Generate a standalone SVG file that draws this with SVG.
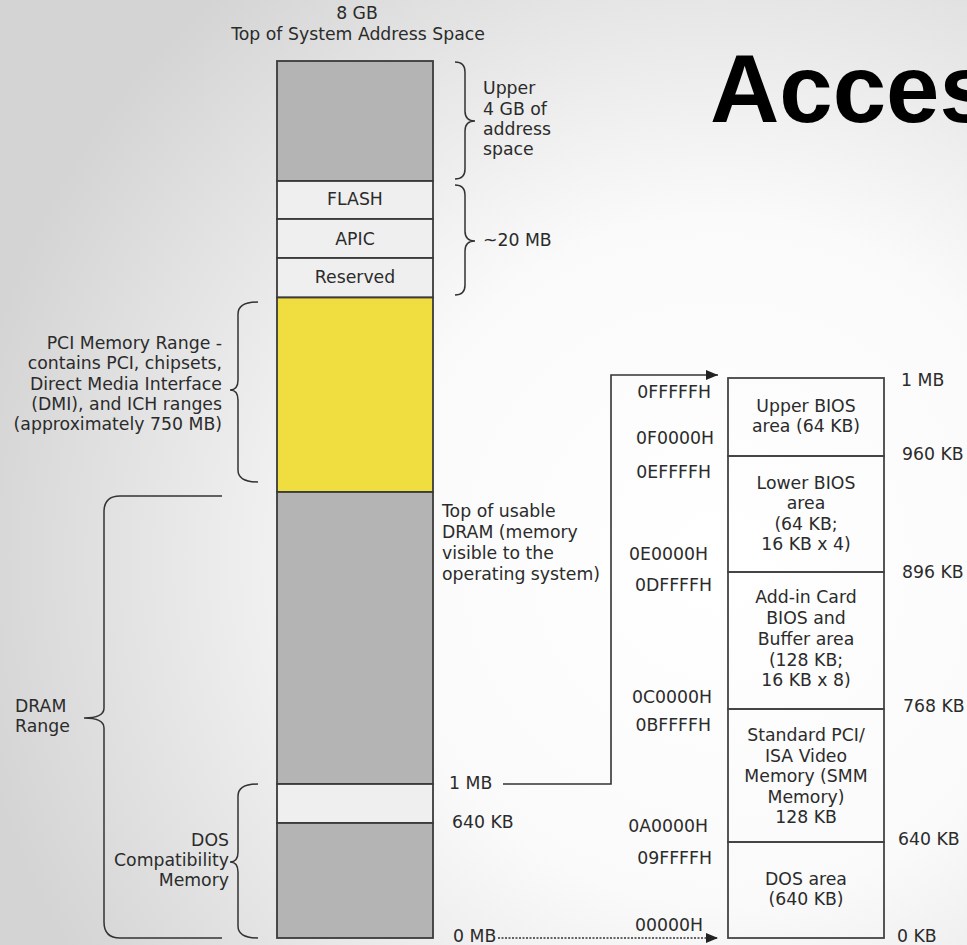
<svg xmlns="http://www.w3.org/2000/svg" width="967" height="945" viewBox="0 0 967 945">
<defs>
<radialGradient id="bg" gradientUnits="userSpaceOnUse" cx="720" cy="560" r="760">
<stop offset="0" stop-color="#ffffff"/>
<stop offset="0.45" stop-color="#fafafa"/>
<stop offset="1" stop-color="#d4d4d4"/>
</radialGradient>
<marker id="ah" viewBox="0 0 12 10" refX="12" refY="5" markerWidth="12" markerHeight="10" markerUnits="userSpaceOnUse" orient="auto">
<path d="M0,0 L12,5 L0,10 z" fill="#222"/>
</marker>
<style>
text{font-family:"DejaVu Sans","Verdana",sans-serif;font-size:17.3px;fill:#2b2b2b}
.c{text-anchor:middle}
.e{text-anchor:end}
.blk{stroke:#3a3a3a;stroke-width:1.8}
.gray{fill:#b4b4b4}
.lite{fill:#efefef}
.yel{fill:#f0dd40}
.box{fill:none;stroke:#444;stroke-width:1.8}
.br{fill:none;stroke:#333;stroke-width:1.5}
.ln{fill:none;stroke:#333;stroke-width:1.6}
.title{font-family:"Liberation Sans",Arial,sans-serif;font-weight:bold;font-size:96px;fill:#000}
</style>
</defs>
<rect width="967" height="945" fill="url(#bg)"/>

<text class="title" x="710" y="122">Acces</text>

<g id="header">
<text class="c" x="357" y="19">8 GB</text>
<text class="c" x="358" y="40">Top of System Address Space</text>
</g>

<g id="upper4gb"><rect class="blk gray" x="277" y="61" width="156" height="120"/></g>
<g id="flash"><rect class="blk lite" x="277" y="181" width="156" height="38"/><text class="c" x="355" y="205">FLASH</text></g>
<g id="apic"><rect class="blk lite" x="277" y="219" width="156" height="39"/><text class="c" x="355" y="245">APIC</text></g>
<g id="reserved"><rect class="blk lite" x="277" y="258" width="156" height="39.5"/><text class="c" x="355" y="283">Reserved</text></g>
<g id="pci"><rect class="blk yel" x="277" y="297.5" width="156" height="194.5"/></g>
<g id="dram"><rect class="blk gray" x="277" y="492" width="156" height="292"/></g>
<g id="hole"><rect class="blk lite" x="277" y="784" width="156" height="39"/></g>
<g id="dos"><rect class="blk gray" x="277" y="823" width="156" height="115"/></g>

<g id="lbl-upper">
<text x="483" y="94">Upper</text>
<text x="483" y="115">4 GB of</text>
<text x="483" y="135">address</text>
<text x="483" y="155">space</text>
</g>
<g id="lbl-20mb"><text x="483" y="246">~20 MB</text></g>

<g id="lbl-pci">
<text class="e" x="222" y="349">PCI Memory Range -</text>
<text class="e" x="222" y="369">contains PCI, chipsets,</text>
<text class="e" x="222" y="390">Direct Media Interface</text>
<text class="e" x="222" y="410">(DMI), and ICH ranges</text>
<text class="e" x="222" y="430">(approximately 750 MB)</text>
</g>

<g id="lbl-dram">
<text x="15" y="712">DRAM</text>
<text x="15" y="732">Range</text>
</g>

<g id="lbl-dos">
<text class="e" x="229" y="846">DOS</text>
<text class="e" x="229" y="866">Compatibility</text>
<text class="e" x="229" y="886">Memory</text>
</g>

<g id="lbl-top-usable">
<text x="442" y="517">Top of usable</text>
<text x="442" y="538">DRAM (memory</text>
<text x="442" y="559">visible to the</text>
<text x="442" y="580">operating system)</text>
</g>

<g id="lbl-left-marks">
<text x="449" y="789">1 MB</text>
<text x="452" y="828">640 KB</text>
<text x="453" y="942">0 MB</text>
</g>

<g id="upper-bios"><rect class="box" x="728" y="378" width="156" height="78"/>
<text class="c" x="806" y="412">Upper BIOS</text><text class="c" x="806" y="432">area (64 KB)</text></g>
<g id="lower-bios"><rect class="box" x="728" y="456" width="156" height="116"/>
<text class="c" x="806" y="489">Lower BIOS</text><text class="c" x="806" y="509">area</text><text class="c" x="806" y="530">(64 KB;</text><text class="c" x="806" y="550">16 KB x 4)</text></g>
<g id="addin"><rect class="box" x="728" y="572" width="156" height="137"/>
<text class="c" x="806" y="603">Add-in Card</text><text class="c" x="806" y="624">BIOS and</text><text class="c" x="806" y="645">Buffer area</text><text class="c" x="806" y="666">(128 KB;</text><text class="c" x="806" y="686">16 KB x 8)</text></g>
<g id="video"><rect class="box" x="728" y="709" width="156" height="133"/>
<text class="c" x="806" y="741">Standard PCI/</text><text class="c" x="806" y="762">ISA Video</text><text class="c" x="806" y="782">Memory (SMM</text><text class="c" x="806" y="803">Memory)</text><text class="c" x="806" y="823">128 KB</text></g>
<g id="dos-area"><rect class="box" x="728" y="842" width="156" height="96"/>
<text class="c" x="806" y="885">DOS area</text><text class="c" x="806" y="905">(640  KB)</text></g>

<g id="hex">
<text class="e" x="711" y="398">0FFFFFH</text>
<text class="e" x="714" y="444">0F0000H</text>
<text class="e" x="711" y="478">0EFFFFH</text>
<text class="e" x="708" y="560">0E0000H</text>
<text class="e" x="712" y="591">0DFFFFH</text>
<text class="e" x="712" y="703">0C0000H</text>
<text class="e" x="711" y="731">0BFFFFH</text>
<text class="e" x="708" y="832">0A0000H</text>
<text class="e" x="712" y="864">09FFFFH</text>
<text class="e" x="703" y="931">00000H</text>
</g>

<g id="kb">
<text x="901" y="386">1 MB</text>
<text x="902" y="460">960 KB</text>
<text x="902" y="578">896 KB</text>
<text x="903" y="712">768 KB</text>
<text x="898" y="845">640 KB</text>
<text x="897" y="942">0 KB</text>
</g>

<g id="connectors">
<path class="br" d="M455,62 Q465,62 465,72 V111 Q465,121 475,121 Q465,121 465,131 V169 Q465,179 455,179"/>
<path class="br" d="M455,185 Q465,185 465,195 V231 Q465,241 475,241 Q465,241 465,251 V285 Q465,295 455,295"/>
<path class="br" d="M258,302 Q238,302 238,314 V380 Q238,390 230,390 Q238,390 238,400 V470 Q238,482 258,482"/>
<path class="br" d="M222,496 H120 Q104,496 104,512 V708 Q104,718 84,718 Q104,718 104,728 V922 Q104,938 120,938 H222"/>
<path class="br" d="M258,784 Q238,784 238,796 V852 Q238,862 230,862 Q238,862 238,872 V926 Q238,938 258,938"/>
<path class="ln" d="M503,784 H611 V375 H718" marker-end="url(#ah)"/>
<path class="ln" d="M498,938 H718" stroke-dasharray="2 1.5" stroke-width="1.3" marker-end="url(#ah)"/>
</g>
</svg>
